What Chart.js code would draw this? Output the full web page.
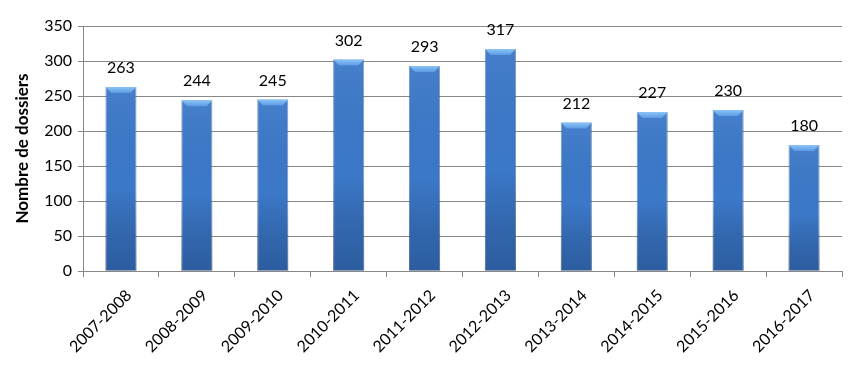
<!DOCTYPE html>
<html lang="fr">
<head>
<meta charset="UTF-8">
<title>Nombre de dossiers</title>
<style>
    body { margin: 0; background: #fff; }
    #wrap { width: 857px; height: 369px; }
</style>
<script src="https://cdn.jsdelivr.net/npm/chart.js"></script>
</head>
<body>
<div id="wrap"><canvas id="dossiersChart" width="857" height="369"></canvas></div>
<script>
    const years = ["2007-2008", "2008-2009", "2009-2010", "2010-2011", "2011-2012",
                   "2012-2013", "2013-2014", "2014-2015", "2015-2016", "2016-2017"];
    const dossiers = [263, 244, 245, 302, 293, 317, 212, 227, 230, 180];
    const yTicks = [0, 50, 100, 150, 200, 250, 300, 350];

    const FONT = "Lato, 'Open Sans', sans-serif";

    // horizontal shading of each bar, built from the bar's own position
    function barFill(ctx) {
        const el = ctx.element;
        if (!el || el.width === undefined) return "#3b78c8";
        const g = ctx.chart.ctx.createLinearGradient(el.x - el.width / 2, 0, el.x + el.width / 2, 0);
        g.addColorStop(0, "#2d5c9c");
        g.addColorStop(0.12, "#3a73bf");
        g.addColorStop(0.5, "#4281d3");
        g.addColorStop(0.88, "#3a73bf");
        g.addColorStop(1, "#2b5896");
        return g;
    }

    // bevel on top + darkening towards bottom, plus the value labels
    const barDeco = {
        id: "barDeco",
        afterDatasetsDraw(chart) {
            const c = chart.ctx;
            const meta = chart.getDatasetMeta(0);
            const bottom = chart.scales.y.getPixelForValue(0);
            meta.data.forEach((bar, i) => {
                const l = bar.x - bar.width / 2, r = bar.x + bar.width / 2, t = bar.y;
                c.save();
                const v = c.createLinearGradient(0, t, 0, bottom);
                v.addColorStop(0, "rgba(255,255,255,0.06)");
                v.addColorStop(0.55, "rgba(0,0,0,0)");
                v.addColorStop(1, "rgba(10,30,70,0.3)");
                c.fillStyle = v;
                c.fillRect(l, t, r - l, bottom - t);
                // top bevel
                c.beginPath();
                c.moveTo(l, t);
                c.lineTo(r, t);
                c.lineTo(r - 6, t + 6);
                c.lineTo(l + 6, t + 6);
                c.closePath();
                const b = c.createLinearGradient(0, t, 0, t + 6);
                b.addColorStop(0, "#8cc4f6");
                b.addColorStop(1, "#5c9be4");
                c.fillStyle = b;
                c.fill();
                // value label
                c.fillStyle = "#000";
                c.font = "16px " + FONT;
                c.textAlign = "center";
                c.textBaseline = "middle";
                c.fillText(String(dossiers[i]), bar.x, t - 19);
                c.restore();
            });
        }
    };

    new Chart(document.getElementById("dossiersChart"), {
        type: "bar",
        data: {
            labels: years,
            datasets: [{
                data: dossiers,
                backgroundColor: barFill,
                borderColor: "rgba(40,80,140,0.6)",
                borderWidth: { left: 1, right: 1, top: 0, bottom: 0 },
                barPercentage: 0.82,
                categoryPercentage: 0.5
            }]
        },
        options: {
            responsive: false,
            animation: false,
            layout: { padding: { top: 26, right: 15, left: 0, bottom: 0 } },
            plugins: { legend: { display: false }, tooltip: { enabled: false } },
            scales: {
                x: {
                    grid: { display: true, drawOnChartArea: false, color: "#888", tickLength: 6, offset: true },
                    border: { color: "#888" },
                    ticks: {
                        color: "#000",
                        font: { family: FONT, size: 16 },
                        minRotation: 45,
                        maxRotation: 45,
                        padding: 9,
                        labelOffset: 8
                    },
                    afterFit(s) { s.height = 98; }
                },
                y: {
                    min: 0,
                    max: 350,
                    afterBuildTicks(s) { s.ticks = yTicks.map(v => ({ value: v })); },
                    grid: { color: "#888", tickLength: 5 },
                    border: { color: "#888" },
                    ticks: {
                        color: "#000",
                        font: { family: FONT, size: 16 },
                        padding: 6
                    },
                    title: {
                        display: true,
                        text: "Nombre de dossiers",
                        color: "#000",
                        font: { family: FONT, size: 17, weight: "bold" },
                        padding: { top: 12, bottom: 0 }
                    },
                    afterFit(s) { s.width = 83; }
                }
            }
        },
        plugins: [barDeco]
    });
</script>
</body>
</html>
